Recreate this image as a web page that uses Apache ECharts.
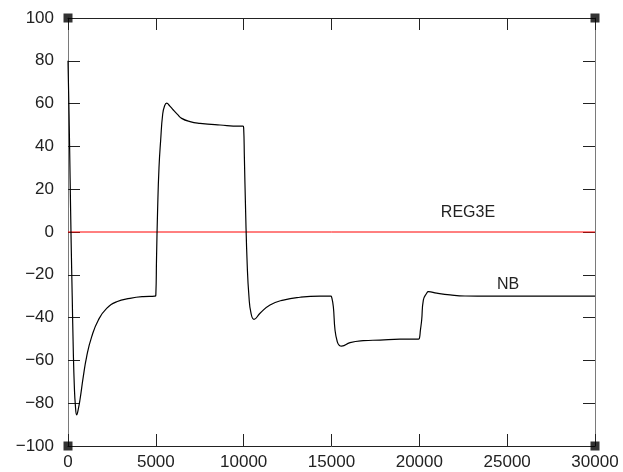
<!DOCTYPE html>
<html>
<head>
<meta charset="utf-8">
<script src="https://cdn.jsdelivr.net/npm/echarts@6/dist/echarts.min.js"></script>
<style>html,body{margin:0;padding:0;background:#fff}#c{width:623px;height:472px}</style>
</head>
<body>
<div id="c"></div>
<script>
// Axis ranges and ticks
const xRange = [0, 30000];
const yRange = [-100, 100];
const xStep = 5000;
const yStep = 20;

// NB series (time, value)
const nbT = [0,60,120,180,240,300,360,420,495,580,680,870,1060,1350,1730,2200,2770,3530,4290,4950,5000,
  5040,5100,5180,5276,5390,5500,5618,5800,5996,6230,6470,6946,7515,8653,9792,9960,
  10000,10040,10110,10200,10300,10420,10590,10931,11500,12257,13208,14346,14960,
  15010,15105,15200,15330,15450,15580,16055,16810,17760,18900,19960,
  20010,20060,20133,20228,20418,20513,20990,21750,22600,24000,30000];
const nbV = [80,55,25,-5,-30,-55,-72,-81,-85.5,-83,-78.5,-67.6,-58.3,-48.9,-41.1,-35.7,-32.6,-31,-30.2,-30,-29.5,
  -12,10,30,43,55,59,60.2,58.8,57,55,53.1,51.6,50.8,50,49.5,49.5,
  48.5,35,10,-15,-30,-38,-40.8,-38,-34.1,-31.8,-30.5,-30,-30,
  -30.5,-34.9,-45.8,-51.3,-53,-53.3,-51.7,-50.8,-50.5,-50.1,-50.1,
  -49.5,-46,-41.1,-31.8,-28.6,-27.9,-28.6,-29.4,-29.9,-30,-30];

// REG3E series
const regT = [0, 30000];
const regV = [0, 0];

// Curve labels (data coordinates)
const labelNames = ['REG3E', 'NB'];
const labelX = [22770, 25050];
const labelY = [9.3, -24.8];

const chart = echarts.init(document.getElementById('c'), null, {renderer: 'canvas'});
const font = 'Liberation Sans';
const labelStyle = {color: '#222', fontFamily: font, fontSize: 17};

function fmt(v) { return v < 0 ? '\u2212' + Math.abs(v) : String(v); }

const corners = [];
xRange.forEach(x => yRange.forEach(y => corners.push([x, y])));

const baseX = {
  type: 'value', min: xRange[0], max: xRange[1], interval: xStep,
  splitLine: {show: false},
  axisLine: {show: true, onZero: false, lineStyle: {color: '#222', width: 1}},
  axisTick: {show: true, inside: true, length: 12, lineStyle: {color: '#222'}}
};
const baseY = {
  type: 'value', min: yRange[0], max: yRange[1], interval: yStep,
  splitLine: {show: false},
  axisLine: {show: true, onZero: false, lineStyle: {color: '#7a7a7a', width: 1}},
  axisTick: {show: true, inside: true, length: 12, lineStyle: {color: '#222'}}
};

chart.setOption({
  animation: false,
  backgroundColor: '#fff',
  grid: {left: 68, right: 28, top: 18, bottom: 26, containLabel: false},
  xAxis: [
    Object.assign({}, baseX, {position: 'bottom', axisLabel: Object.assign({margin: 8, formatter: fmt}, labelStyle)}),
    Object.assign({}, baseX, {position: 'top', axisLabel: {show: false}})
  ],
  yAxis: [
    Object.assign({}, baseY, {position: 'left', axisLabel: Object.assign({margin: 14, formatter: fmt}, labelStyle)}),
    Object.assign({}, baseY, {position: 'right', axisLabel: {show: false}})
  ],
  series: [
    {
      name: 'REG3E', type: 'line', data: regT.map((t, i) => [t, regV[i]]),
      symbol: 'none', lineStyle: {color: '#ff0000', width: 1}, z: 2,
      markPoint: {
        symbol: 'rect', symbolSize: 0,
        label: {show: true, position: 'inside', formatter: p => p.name, color: '#222', fontFamily: font, fontSize: 16},
        data: [{name: labelNames[0], coord: [labelX[0], labelY[0]]}]
      }
    },
    {
      name: 'NB', type: 'line', data: nbT.map((t, i) => [t, nbV[i]]),
      symbol: 'none', smooth: 0.5,
      lineStyle: {color: '#000', width: 1.2}, z: 3,
      markPoint: {
        symbol: 'rect', symbolSize: 0,
        label: {show: true, position: 'inside', formatter: p => p.name, color: '#222', fontFamily: font, fontSize: 16},
        data: [{name: labelNames[1], coord: [labelX[1], labelY[1]]}]
      }
    },
    {
      type: 'scatter', data: corners, symbol: 'rect', symbolSize: 9, clip: false,
      itemStyle: {color: '#000'}, z: 5, silent: true
    }
  ]
});
</script>
</body>
</html>
